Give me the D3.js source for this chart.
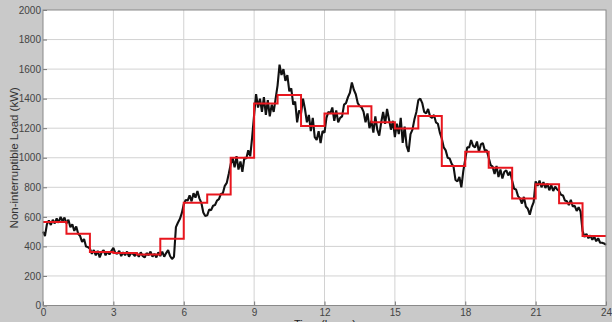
<!DOCTYPE html>
<html>
<head>
<meta charset="utf-8">
<script src="https://cdn.jsdelivr.net/npm/d3@7"></script>
<style>
  html, body { margin: 0; padding: 0; background: #c9c9c9; }
  svg { display: block; }
</style>
</head>
<body>
<svg id="chart" width="612" height="322"></svg>
<script>
// hourly step (red) values, kW
const hourlyLoad = [565, 485, 362, 355, 345, 452, 695, 752, 1000, 1368, 1425, 1215,
  1300, 1348, 1240, 1198, 1282, 945, 1040, 932, 725, 820, 692, 470];

// measured load (black), one value every 5 minutes, kW
const loadH0  = [500, 470, 550, 575, 545, 580, 555, 590, 560, 600, 570, 595];
const loadH1  = [555, 580, 530, 550, 505, 535, 485, 470, 430, 450, 400, 395];
const loadH2  = [385, 350, 375, 340, 370, 325, 360, 375, 340, 365, 345, 370];
const loadH3  = [390, 355, 350, 370, 335, 360, 340, 365, 330, 355, 350, 335];
const loadH4  = [355, 330, 360, 335, 325, 355, 340, 365, 330, 350, 325, 360];
const loadH5  = [335, 365, 330, 355, 375, 335, 315, 330, 530, 560, 585, 625];
const loadH6  = [685, 715, 710, 745, 705, 760, 730, 775, 725, 695, 630, 605];
const loadH7  = [610, 650, 645, 675, 680, 710, 720, 755, 760, 810, 830, 890];
const loadH8  = [955, 1000, 935, 1010, 920, 975, 905, 1000, 995, 1050, 1010, 1140];
const loadH9  = [1290, 1430, 1340, 1400, 1310, 1410, 1290, 1390, 1280, 1360, 1310, 1400];
const loadH10 = [1490, 1630, 1560, 1600, 1520, 1560, 1450, 1470, 1360, 1380, 1240, 1320];
const loadH11 = [1300, 1400, 1330, 1240, 1290, 1180, 1270, 1140, 1120, 1180, 1100, 1180];
const loadH12 = [1170, 1270, 1310, 1300, 1340, 1250, 1320, 1240, 1270, 1280, 1360, 1370];
const loadH13 = [1410, 1440, 1510, 1460, 1430, 1370, 1350, 1340, 1310, 1240, 1300, 1200];
const loadH14 = [1250, 1170, 1280, 1190, 1150, 1240, 1310, 1230, 1330, 1260, 1190, 1250];
const loadH15 = [1140, 1230, 1160, 1270, 1100, 1210, 1080, 1040, 1160, 1190, 1260, 1310];
const loadH16 = [1390, 1400, 1370, 1310, 1300, 1330, 1280, 1270, 1290, 1240, 1230, 1170];
const loadH17 = [1130, 1070, 1050, 1000, 995, 960, 940, 850, 840, 870, 800, 910];
const loadH18 = [990, 1070, 1070, 1120, 1080, 1070, 1110, 1040, 1090, 1100, 1050, 1050];
const loadH19 = [1000, 950, 940, 890, 945, 870, 920, 860, 905, 915, 880, 905];
const loadH20 = [845, 790, 785, 740, 725, 690, 735, 670, 655, 615, 665, 700];
const loadH21 = [840, 810, 845, 800, 835, 795, 825, 780, 815, 775, 805, 785];
const loadH22 = [775, 750, 745, 710, 705, 680, 715, 670, 675, 640, 665, 635];
const loadH23 = [505, 465, 485, 455, 475, 445, 465, 435, 455, 425, 425, 420];
const loadEnd = [410];

const xTicks = [0, 3, 6, 9, 12, 15, 18, 21, 24];
const yTicks = [0, 200, 400, 600, 800, 1000, 1200, 1400, 1600, 1800, 2000];

const svg = d3.select('#chart');
const plotL = 43, plotR = 606, plotT = 10, plotB = 305.5;

const x = d3.scaleLinear().domain([0, 24]).range([plotL, plotR]);
const y = d3.scaleLinear().domain([0, 2000]).range([plotB, plotT]);

// white plot area
svg.append('rect')
  .attr('x', plotL).attr('y', plotT)
  .attr('width', plotR - plotL).attr('height', plotB - plotT)
  .attr('fill', '#fff');

// grid
svg.append('g').selectAll('line').data(xTicks.slice(1, -1)).enter().append('line')
  .attr('x1', d => x(d)).attr('x2', d => x(d))
  .attr('y1', plotT).attr('y2', plotB)
  .attr('stroke', '#d2d2d2').attr('stroke-width', 1);
svg.append('g').selectAll('line').data(yTicks.slice(1, -1)).enter().append('line')
  .attr('x1', plotL).attr('x2', plotR)
  .attr('y1', d => y(d)).attr('y2', d => y(d))
  .attr('stroke', '#d2d2d2').attr('stroke-width', 1);

// black measured load
const series = [].concat(loadH0, loadH1, loadH2, loadH3, loadH4, loadH5, loadH6, loadH7,
  loadH8, loadH9, loadH10, loadH11, loadH12, loadH13, loadH14, loadH15, loadH16, loadH17,
  loadH18, loadH19, loadH20, loadH21, loadH22, loadH23, loadEnd);

const line = d3.line()
  .x((d, i) => x(i / 12))
  .y(d => y(d));

svg.append('path')
  .datum(series)
  .attr('d', line)
  .attr('fill', 'none')
  .attr('stroke', '#111')
  .attr('stroke-width', 2.1)
  .attr('stroke-linejoin', 'bevel');

// red hourly steps
const steps = hourlyLoad.concat([hourlyLoad[hourlyLoad.length - 1]]);
const stepLine = d3.line()
  .x((d, i) => x(i))
  .y(d => y(d))
  .curve(d3.curveStepAfter);

svg.append('path')
  .datum(steps)
  .attr('d', stepLine)
  .attr('fill', 'none')
  .attr('stroke', '#e8161e')
  .attr('stroke-width', 2);

// axes
const xAxis = d3.axisBottom(x).tickValues(xTicks).tickSize(-4).tickPadding(3);
const yAxis = d3.axisLeft(y).tickValues(yTicks).tickSize(-4).tickPadding(2)
  .tickFormat(d3.format('d'));

const gx = svg.append('g').attr('transform', `translate(0,${plotB})`).call(xAxis);
const gy = svg.append('g').attr('transform', `translate(${plotL},0)`).call(yAxis);

[gx, gy].forEach(g => {
  g.select('.domain').remove();
  g.selectAll('line').attr('stroke', '#777');
  g.selectAll('text')
    .attr('fill', '#444')
    .style('font-family', '"Liberation Sans", Arial, sans-serif')
    .style('font-size', '10px');
});

// plot frame
svg.append('rect')
  .attr('x', plotL).attr('y', plotT)
  .attr('width', plotR - plotL).attr('height', plotB - plotT)
  .attr('fill', 'none')
  .attr('stroke', '#8a8a8a')
  .attr('stroke-width', 1);

// axis titles
svg.append('text')
  .attr('transform', `translate(18,${(plotT + plotB) / 2}) rotate(-90)`)
  .attr('text-anchor', 'middle')
  .attr('fill', '#333')
  .style('font-family', '"Liberation Sans", Arial, sans-serif')
  .style('font-size', '11.5px')
  .text('Non-interruptible Load (kW)');

svg.append('text')
  .attr('x', 325).attr('y', 327.5)
  .attr('text-anchor', 'middle')
  .attr('fill', '#222')
  .style('font-family', '"Liberation Sans", Arial, sans-serif')
  .style('font-size', '11px')
  .text('Time (hours)');
</script>
</body>
</html>
